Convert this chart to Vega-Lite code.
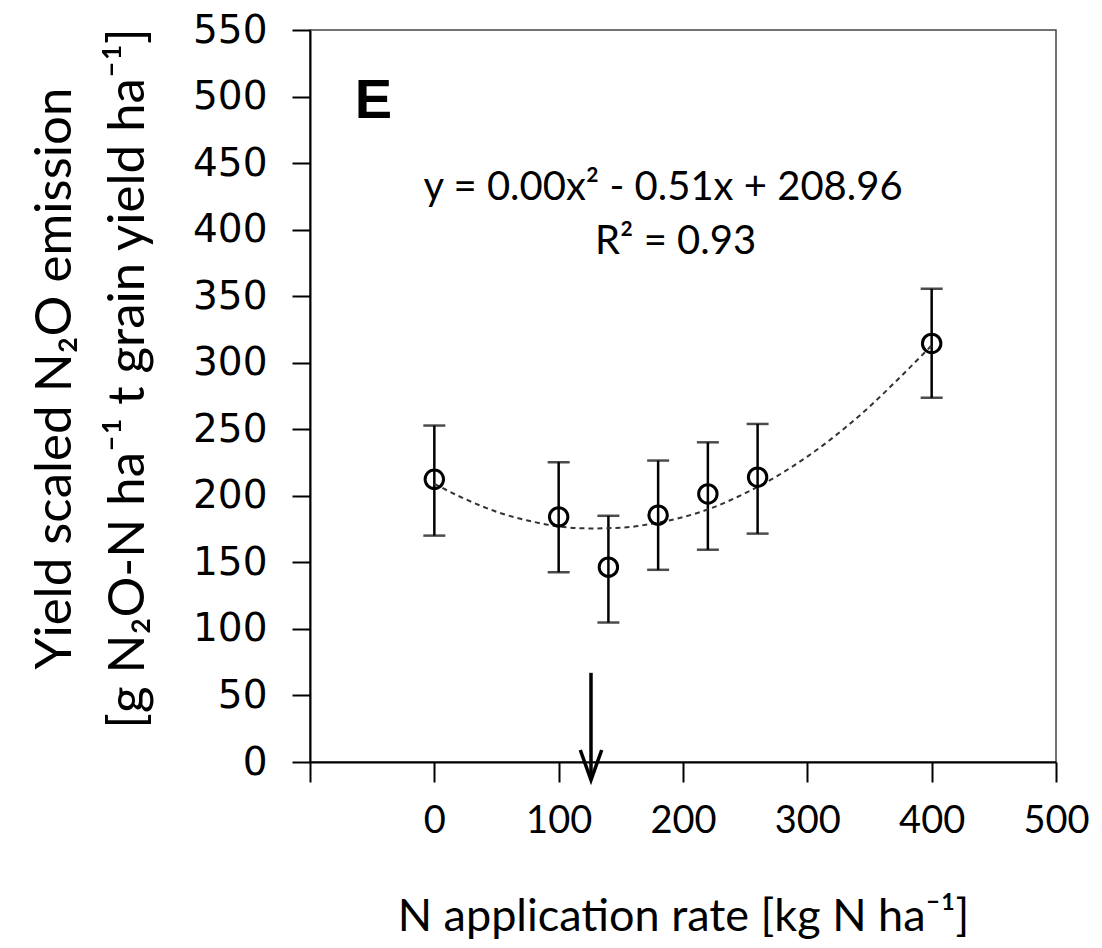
{
  "$schema": "https://vega.github.io/schema/vega-lite/v6.json",
  "width": 746,
  "height": 732,
  "autosize": "none",
  "padding": {"top": 30, "left": 310, "right": 46, "bottom": 186},
  "background": "white",
  "config": {
    "view": {"stroke": "#444", "strokeWidth": 1.5},
    "axis": {"domainColor": "black", "domainWidth": 2, "tickColor": "black", "tickWidth": 2, "labelColor": "black", "titleColor": "black", "grid": false, "titleFontWeight": "normal"}
  },
  "datasets": {
    "points": [
      {"n": 0, "v": 212.4, "lo": 170.1, "hi": 252.8},
      {"n": 100, "v": 184.2, "lo": 142.6, "hi": 225.3},
      {"n": 140, "v": 146.4, "lo": 104.8, "hi": 185.0},
      {"n": 180, "v": 185.5, "lo": 144.4, "hi": 226.5},
      {"n": 220, "v": 201.4, "lo": 159.5, "hi": 240.2},
      {"n": 260, "v": 214.0, "lo": 171.6, "hi": 254.0},
      {"n": 400, "v": 314.5, "lo": 273.7, "hi": 355.6}
    ],
    "curve": [
      {"n": 0, "v": 209}, {"n": 25, "v": 197.5}, {"n": 50, "v": 188}, {"n": 75, "v": 181.5},
      {"n": 100, "v": 177}, {"n": 125, "v": 175.5}, {"n": 150, "v": 176}, {"n": 175, "v": 179},
      {"n": 200, "v": 184}, {"n": 225, "v": 191.5}, {"n": 250, "v": 202}, {"n": 275, "v": 214.5},
      {"n": 300, "v": 229.5}, {"n": 325, "v": 247}, {"n": 350, "v": 267}, {"n": 375, "v": 289.5},
      {"n": 400, "v": 313}
    ],
    "arrow": [{"n": 126, "v": 67, "tip": -13.5}],
    "letter": [{"n": -64, "v": 484, "label": "E"}],
    "eq": [
      {"n": 184, "v": 422, "label": "y = 0.00x² - 0.51x + 208.96"},
      {"n": 194, "v": 382, "label": "R² = 0.93"}
    ]
  },
  "layer": [
    {
      "data": {"name": "points"},
      "mark": {"type": "errorbar", "ticks": {"size": 22, "thickness": 2.5, "color": "black"}, "rule": {"strokeWidth": 2.5, "color": "black"}},
      "encoding": {
        "x": {"field": "n", "type": "quantitative", "scale": {"domain": [-100, 500], "nice": false, "zero": false},
          "axis": {"values": [-100, 0, 100, 200, 300, 400, 500], "labelExpr": "datum.value < 0 ? '' : datum.label", "labelFlush": false, "labelOverlap": false,
            "labelFont": "Lato", "labelFontSize": 38, "tickSize": 20, "labelPadding": 20,
            "title": "N application  rate [kg N ha⁻¹]", "titleFont": "Lato", "titleFontSize": 45, "titleBaseline": "alphabetic", "titleY": 168}},
        "y": {"field": "lo", "type": "quantitative", "scale": {"domain": [0, 550], "nice": false},
          "axis": {"values": [0, 50, 100, 150, 200, 250, 300, 350, 400, 450, 500, 550], "labelOverlap": false,
            "labelFont": "DejaVu Sans", "labelFontSize": 39, "tickSize": 18, "labelPadding": 25,
            "title": ["Yield scaled N₂O emission", "[g N₂O-N ha⁻¹ t grain yield ha⁻¹]"],
            "titleFont": "Lato", "titleFontSize": 51, "titleLineHeight": 73,
            "titleAngle": 270, "titleBaseline": "alphabetic", "titleAlign": "center", "titleX": -240, "titleY": 348}},
        "y2": {"field": "hi"}
      }
    },
    {
      "data": {"name": "curve"},
      "mark": {"type": "line", "color": "#333", "strokeWidth": 2, "strokeDash": [5, 4], "interpolate": "monotone"},
      "encoding": {
        "x": {"field": "n", "type": "quantitative"},
        "y": {"field": "v", "type": "quantitative"}
      }
    },
    {
      "data": {"name": "points"},
      "mark": {"type": "point", "shape": "circle", "filled": false, "stroke": "black", "strokeWidth": 3, "size": 340, "opacity": 1},
      "encoding": {
        "x": {"field": "n", "type": "quantitative"},
        "y": {"field": "v", "type": "quantitative"}
      }
    },
    {
      "data": {"name": "arrow"},
      "mark": {"type": "rule", "color": "black", "strokeWidth": 3.5},
      "encoding": {
        "x": {"field": "n", "type": "quantitative"},
        "y": {"field": "v", "type": "quantitative"},
        "y2": {"field": "tip"}
      }
    },
    {
      "data": {"name": "arrow"},
      "mark": {"type": "point", "shape": "M-1,-2.8L0,0L1,-2.8", "filled": false, "stroke": "black", "strokeWidth": 3.5, "size": 458, "opacity": 1, "strokeJoin": "miter"},
      "encoding": {
        "x": {"field": "n", "type": "quantitative"},
        "y": {"field": "tip", "type": "quantitative"}
      }
    },
    {
      "data": {"name": "letter"},
      "mark": {"type": "text", "font": "Liberation Sans", "fontWeight": "bold", "fontSize": 56, "align": "left", "baseline": "alphabetic", "color": "black"},
      "encoding": {
        "x": {"field": "n", "type": "quantitative"},
        "y": {"field": "v", "type": "quantitative"},
        "text": {"field": "label"}
      }
    },
    {
      "data": {"name": "eq"},
      "mark": {"type": "text", "font": "Lato", "fontSize": 40, "align": "center", "baseline": "alphabetic", "color": "black"},
      "encoding": {
        "x": {"field": "n", "type": "quantitative"},
        "y": {"field": "v", "type": "quantitative"},
        "text": {"field": "label"}
      }
    }
  ]
}
